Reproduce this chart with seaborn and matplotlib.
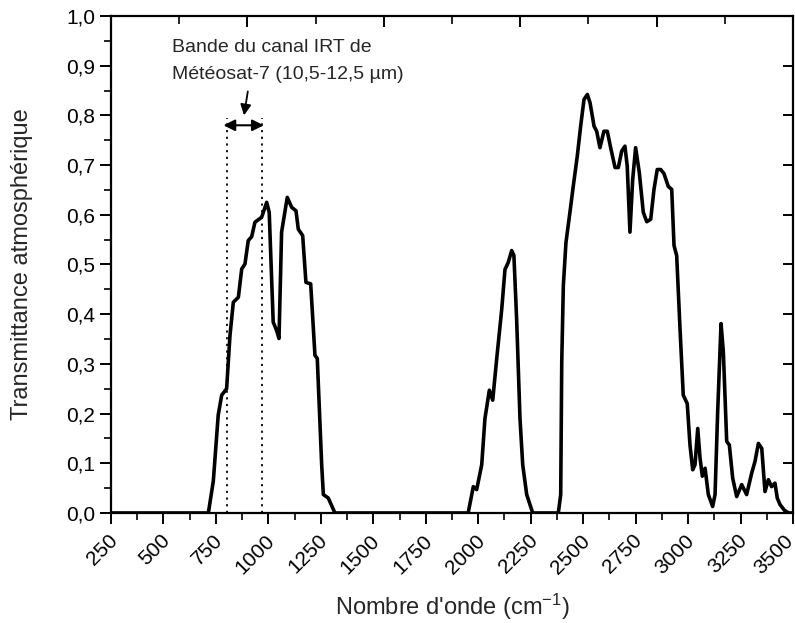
import numpy as np
import pandas as pd
import matplotlib
matplotlib.use("Agg")
import matplotlib.pyplot as plt
import matplotlib.transforms as mtransforms
import seaborn as sns
from matplotlib.ticker import MultipleLocator, FixedLocator, FuncFormatter, NullFormatter

wavenumber = [250, 700, 714, 737.6, 761, 777.5, 801, 817, 833, 857, 873, 888.5, 904, 920.5,
              936, 968, 992, 1004, 1023, 1039.5, 1050.6, 1063, 1090, 1111, 1131.6, 1142.6,
              1163.5, 1179, 1201.6, 1222, 1233, 1254, 1262, 1285.6, 1317,
              1952, 1976.6, 1992.6, 2016.6, 2032, 2053, 2069, 2088, 2112, 2127.5, 2143,
              2159.5, 2170, 2183, 2199, 2212, 2231, 2259.5,
              2381.6, 2393, 2398, 2405.5, 2418, 2437, 2453, 2472, 2488, 2504, 2520, 2533,
              2552, 2564.5, 2580, 2599, 2615, 2631, 2652, 2667.5, 2683.6, 2699, 2710, 2723,
              2736, 2750, 2767.5, 2786.5, 2803, 2822, 2837.5, 2853, 2869.5, 2885, 2905.6,
              2922, 2933, 2945.6, 2961.5, 2977, 2996, 3009, 3022, 3033, 3046, 3057, 3068,
              3081, 3096.5, 3117, 3128.5, 3141, 3157, 3168, 3184, 3196.5, 3212.6, 3231.6,
              3255.5, 3279, 3303, 3319, 3335, 3351, 3366.5, 3382.5, 3398, 3414, 3425, 3438,
              3460, 3480, 3500]
transmittance = [0, 0, 0, 0.064, 0.197, 0.237, 0.25, 0.357, 0.424, 0.434, 0.491, 0.501, 0.548,
                 0.556, 0.585, 0.595, 0.625, 0.605, 0.384, 0.367, 0.351, 0.565, 0.635, 0.615,
                 0.608, 0.571, 0.558, 0.464, 0.461, 0.317, 0.311, 0.097, 0.037, 0.030, 0,
                 0, 0.053, 0.047, 0.097, 0.19, 0.247, 0.227, 0.31, 0.41, 0.49, 0.504,
                 0.528, 0.518, 0.39, 0.19, 0.097, 0.037, 0,
                 0, 0.037, 0.304, 0.457, 0.544, 0.605, 0.658, 0.718, 0.778, 0.832, 0.842, 0.825,
                 0.778, 0.768, 0.735, 0.768, 0.768, 0.735, 0.695, 0.695, 0.728, 0.738, 0.698, 0.565,
                 0.671, 0.735, 0.685, 0.605, 0.586, 0.591, 0.651, 0.691, 0.691, 0.683, 0.657,
                 0.651, 0.538, 0.518, 0.371, 0.237, 0.22, 0.137, 0.087, 0.097, 0.17, 0.11, 0.074,
                 0.09, 0.037, 0.013, 0.037, 0.204, 0.381, 0.324, 0.144, 0.137, 0.07, 0.033,
                 0.057, 0.037, 0.08, 0.104, 0.14, 0.13, 0.043, 0.067, 0.053, 0.06, 0.03, 0.017,
                 0.005, 0, 0]

band_edges = [801, 968]
annot_text = "Bande du canal IRT de\nMétéosat-7 (10,5-12,5 µm)"
x_ticks = list(range(250, 3501, 250))
y_ticks = [round(0.1 * i, 1) for i in range(11)]

df = pd.DataFrame({"wavenumber": wavenumber, "transmittance": transmittance})

sns.set_theme(style="ticks")
plt.rcParams["font.family"] = ["Liberation Sans", "DejaVu Sans"]
plt.rcParams["mathtext.default"] = "regular"

fig = plt.figure(figsize=(7.95, 6.23), dpi=100)
ax = fig.add_axes([0.1396, 0.1766, 0.8579, 0.7978])

sns.lineplot(data=df, x="wavenumber", y="transmittance", color="black",
             linewidth=2.6, estimator=None, ax=ax, zorder=3)

ax.set_xlim(250, 3500)
ax.set_ylim(0, 1.0)

for xe in band_edges:
    ax.plot([xe, xe], [0, 0.795], color="black", linestyle=(0, (1.2, 2.5)), linewidth=1.3)

ax.annotate("", xy=(786, 0.78), xytext=(978, 0.78),
            arrowprops=dict(arrowstyle="<|-|>", color="black", lw=1.5,
                            mutation_scale=17, shrinkA=0, shrinkB=0))
ax.annotate("", xy=(884, 0.80), xytext=(902, 0.848),
            arrowprops=dict(arrowstyle="-|>", color="black", lw=1.3,
                            mutation_scale=16, shrinkA=0, shrinkB=0))
ax.text(540, 0.91, annot_text, fontsize=14, ha="left", va="center",
        linespacing=1.75)

ax.xaxis.set_major_locator(FixedLocator(x_ticks))
ax.xaxis.set_minor_locator(MultipleLocator(125))
ax.yaxis.set_major_locator(FixedLocator(y_ticks))
ax.yaxis.set_minor_locator(MultipleLocator(0.05))
ax.yaxis.set_major_formatter(FuncFormatter(lambda v, p: f"{v:.1f}".replace(".", ",")))
ax.xaxis.set_major_formatter(FuncFormatter(lambda v, p: f"{int(round(v))}"))

ax.tick_params(axis="both", which="major", direction="out", length=8, width=1.4,
               labelsize=15, colors="black")
ax.tick_params(axis="both", which="minor", direction="out", length=5, width=1.2,
               colors="black")

for s in ax.spines.values():
    s.set_linewidth(1.6)
    s.set_color("black")

top = ax.twiny()
top.set_xlim(ax.get_xlim())
top.xaxis.set_major_locator(FixedLocator([250 + 650 * k for k in range(6)]))
top.xaxis.set_minor_locator(FixedLocator([575 + 650 * k for k in range(5)]))
top.xaxis.set_major_formatter(NullFormatter())
top.tick_params(axis="x", which="major", direction="in", length=8, width=1.4,
                top=True, bottom=False, labeltop=False, colors="black")
top.tick_params(axis="x", which="minor", direction="in", length=6, width=1.2,
                top=True, bottom=False, colors="black")
for s in top.spines.values():
    s.set_visible(False)

right = ax.twinx()
right.set_ylim(ax.get_ylim())
right.yaxis.set_major_locator(FixedLocator([0.1 * k for k in range(1, 10)]))
right.yaxis.set_minor_locator(FixedLocator([]))
right.yaxis.set_major_formatter(NullFormatter())
right.tick_params(axis="y", which="major", direction="in", length=7, width=1.4,
                  right=True, left=False, labelright=False, colors="black")
for s in right.spines.values():
    s.set_visible(False)

ax.set_xlabel("Nombre d'onde (cm$^{-1}$)", fontsize=17, va="center")
ax.set_ylabel("Transmittance atmosphérique", fontsize=17, va="center")
ax.xaxis.set_label_coords(0.5, -0.188)
ax.yaxis.set_label_coords(-0.1305, 0.5)

fig.canvas.draw()
labels = ax.get_xticklabels()
for i, lab in enumerate(labels):
    dx = -3 if i < len(labels) - 1 else -9
    offset = mtransforms.ScaledTranslation(dx / 100, -2 / 100, fig.dpi_scale_trans)
    lab.set_rotation(45)
    lab.set_ha("right")
    lab.set_va("top")
    lab.set_rotation_mode("anchor")
    lab.set_transform(lab.get_transform() + offset)

fig.savefig("out.png", dpi=100)
